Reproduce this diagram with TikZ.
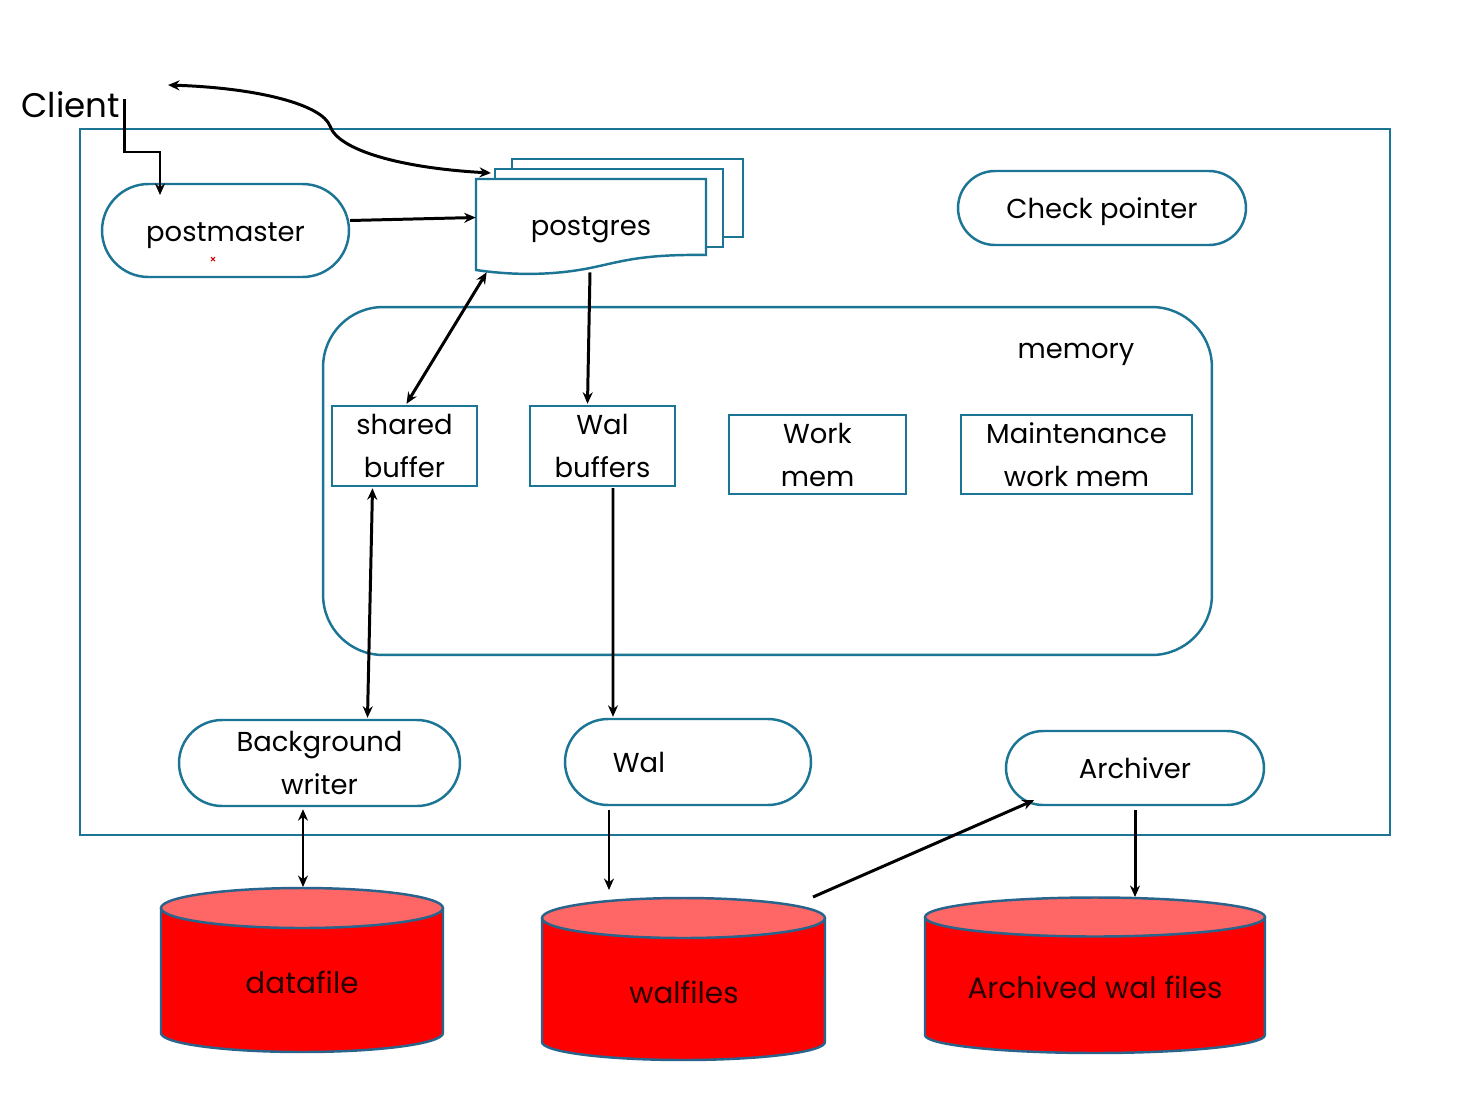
\documentclass[tikz,border=0pt]{standalone}
\usepackage{fontspec}
\setmainfont{Poppins}
\usetikzlibrary{arrows.meta,shapes.misc,calc}
\definecolor{frameblue}{RGB}{28,117,148}
\definecolor{cylred}{RGB}{255,0,0}
\definecolor{cyltop}{RGB}{255,102,102}
\definecolor{cyledge}{RGB}{40,100,140}
\definecolor{cyltext}{RGB}{40,0,0}
\newcommand\dbcyl[9]{% name, xl, xr, cx, ytop, ybot, a(cm), ry top(cm), ry bot(cm)
  \fill[cylred] (#2,#5) -- (#2,#6) arc[start angle=180,end angle=360,x radius=#7cm,y radius=#9cm] -- (#3,#5) -- cycle;
  \draw[cyledge,line width=1.4pt] (#2,#5) -- (#2,#6) arc[start angle=180,end angle=360,x radius=#7cm,y radius=#9cm] -- (#3,#5);
  \draw[cyledge,line width=1.4pt,fill=cyltop] (#4,#5) ellipse[x radius=#7cm,y radius=#8cm];
  \coordinate (#1-c) at (#4,#5);
}
\begin{document}
\begin{tikzpicture}[x=0.02cm,y=-0.02cm,
  txt/.style={font=\fontsize{15.6}{24.5}\selectfont,align=center},
  one/.style={text height=16.5pt,text depth=4pt},
  box/.style={txt,draw=frameblue,line width=1.4pt,fill=white,inner sep=0pt},
  pill/.style={box,rounded rectangle},
  cyltxt/.style={font=\fontsize{16.8}{20}\selectfont,text=cyltext},
  arr/.style={-{Stealth[length=0.23cm,width=0.2cm]},line width=1.7pt},
  darr/.style={{Stealth[length=0.23cm,width=0.2cm]}-{Stealth[length=0.23cm,width=0.2cm]},line width=1.7pt}]
\useasboundingbox (0,0) rectangle (1472,1120);
\fill[white] (0,0) rectangle (1472,1120);

% outer frame
\node[draw=frameblue,line width=1.4pt,minimum width=26.2cm,minimum height=14.12cm,inner sep=0pt] (frame) at (735,482) {};

% client
\node[font=\fontsize{19.4}{22}\selectfont,inner sep=0pt,anchor=west] (client) at (21,105) {Client};

% postmaster
\node[pill,one,minimum width=4.94cm,minimum height=1.86cm] (postmaster) at (225.5,230.5) {postmaster};
\draw[red!80!black,line width=0.6pt] (211,257) -- (215,261) (211,261) -- (215,257);

% postgres stacked documents
\draw[frameblue,line width=1.4pt,fill=white] (512,159) rectangle (743,237);
\draw[frameblue,line width=1.4pt,fill=white] (495,169) rectangle (723,247);
\draw[frameblue,line width=1.4pt,fill=white] (476,179) -- (706,179) -- (706,255)
  .. controls (640,254) and (620,262) .. (590,268)
  .. controls (550,276) and (510,275) .. (476,270) -- cycle;
\node[minimum width=4.6cm,minimum height=1.82cm,inner sep=0pt] (pg) at (591,224.5) {};
\node[txt,one] (pgtext) at (591,225) {postgres};

% check pointer
\node[pill,one,minimum width=5.76cm,minimum height=1.48cm] (chk) at (1102,208) {Check pointer};

% memory
\node[draw=frameblue,line width=1.4pt,rounded corners=1.2cm,minimum width=17.78cm,minimum height=6.96cm,inner sep=0pt] (memory) at (767.5,481) {};
\node[txt,one] (memlabel) at (1076,348) {memory};

\node[box,minimum width=2.9cm,minimum height=1.6cm] (shared) at (404.5,446) {shared\\buffer};
\node[box,minimum width=2.9cm,minimum height=1.6cm] (walbuf) at (602.5,446) {Wal\\buffers};
\node[box,minimum width=3.54cm,minimum height=1.58cm] (work) at (817.5,454.5) {Work\\mem};
\node[box,minimum width=4.62cm,minimum height=1.58cm] (maint) at (1076.5,454.5) {Maintenance\\work mem};

% processes
\node[pill,minimum width=5.62cm,minimum height=1.72cm] (bgw) at (319.5,763) {Background\\writer};
\node[pill,minimum width=4.92cm,minimum height=1.72cm] (wal) at (688,762) {};
\node[txt,one] (waltext) at (639,762) {Wal};
\node[pill,one,minimum width=5.16cm,minimum height=1.48cm] (arch) at (1135,768) {Archiver};

% cylinders
\dbcyl{df}{161}{443}{302}{908}{1033}{2.82}{0.4}{0.38}
\node[cyltxt] (dftext) at (302,982) {datafile};
\dbcyl{wf}{542}{825}{683.5}{918}{1042}{2.83}{0.4}{0.36}
\node[cyltxt] (wftext) at (684,992) {walfiles};
\dbcyl{aw}{925}{1265}{1095}{917}{1035}{3.4}{0.39}{0.36}
\node[cyltxt] (awtext) at (1095,987) {Archived wal files};

% connector endpoints
\coordinate (ret) at (168,85);
\coordinate (pgtop) at (491,173);
\coordinate (dftop) at (303,887);
\coordinate (wftop) at (609,890);
\coordinate (wfright) at (813,897);
\coordinate (awtop) at (1135,897);

% connectors
\draw[arr] ($(client.east)+(4,-6)$) |- (160,152) -- (160,195);
\draw[arr] ($(postmaster.east)+(0,-10)$) -- ($(pg.west)+(0,-7)$);
\draw[darr] (ret) .. controls (260,88) and (322,105) .. (330,126)
  .. controls (338,150) and (400,168) .. (pgtop);
\draw[darr] ($(pg.south west)+(11,2)$) -- ($(shared.north)+(2,-1)$);
\draw[arr] ($(pg.south)+(-1,2)$) -- ($(walbuf.north)+(-15,-1)$);
\draw[darr] ($(shared.south)+(-32,1)$) -- ($(bgw.north)+(48,-1)$);
\draw[arr] ($(walbuf.south)+(10.5,1)$) -- ($(wal.north)+(-75,-1)$);
\draw[darr] ($(bgw.south)+(-16.5,2)$) -- (dftop);
\draw[arr] ($(wal.south)+(-79,4)$) -- (wftop);
\draw[arr] (wfright) -- ($(arch.south)+(-101,-6)$);
\draw[arr] ($(arch.south)+(0,4)$) -- (awtop);
\end{tikzpicture}
\end{document}
